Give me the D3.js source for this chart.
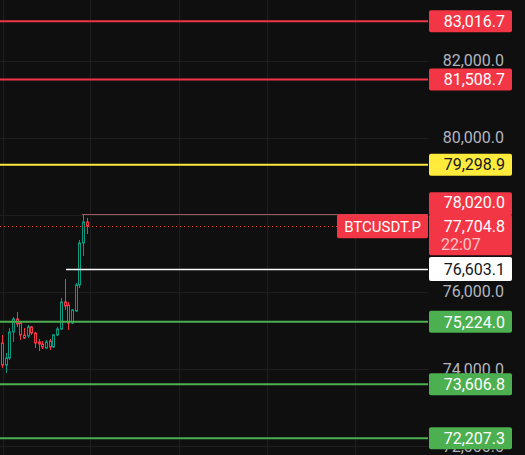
<!DOCTYPE html>
<html>
<head>
<meta charset="utf-8">
<script src="https://cdn.jsdelivr.net/npm/d3@7"></script>
<style>
  html, body { margin: 0; padding: 0; background: #0f0f0f; }
  svg { display: block; }
  text { font-family: Roboto, "Liberation Sans", sans-serif; }
</style>
</head>
<body>
<svg id="chart"></svg>
<script>
// 5-minute candles, oldest first (first one is cut off by the left edge)
const opens  = [73975, 74675, 74104, 74286, 74960, 75297, 75193, 74882, 74856, 75090, 74934, 74701, 74649, 74545, 74727, 74571, 74882, 75038, 75738, 75660, 75193, 75505, 76179, 77268, 77812];
const highs  = [74234, 74882, 74416, 75064, 75349, 75479, 75219, 75064, 75142, 75116, 74960, 74779, 74727, 74753, 74779, 74908, 75090, 75842, 76334, 75738, 75556, 76231, 77346, 78020, 77916];
const lows   = [73845, 74027, 73897, 74234, 74701, 75090, 74753, 74779, 74805, 74882, 74545, 74467, 74519, 74519, 74493, 74545, 74856, 75012, 75531, 75012, 75168, 75479, 76101, 76931, 77501];
const closes = [74130, 74104, 74286, 74960, 75297, 75168, 74882, 74805, 75090, 74934, 74675, 74649, 74571, 74701, 74571, 74882, 75038, 75738, 75634, 75193, 75531, 76179, 77268, 77812, 77704.8];
const firstIndex = -1;

const resistanceLevels = [83016.7, 81508.7];
const pivotLevel = 79298.9;
const supportLevels = [75224.0, 73606.8, 72207.3];
const sessionHigh = 78020.0;
const lastPrice = 77704.8;
const markerPrice = 76603.1;
const symbol = "BTCUSDT.P";
const countdown = "22:07";

const priceTicks = [72000, 74000, 76000, 78000, 80000, 82000];
const timeGrid = [0.3, 24, 48, 72, 96];

const W = 525, H = 455, plotRight = 428;
const up = "#089981", down = "#f23645";
const fmt = d3.format(",.1f");

const svg = d3.select("#chart").attr("width", W).attr("height", H);
svg.append("rect").attr("width", W).attr("height", H).attr("fill", "#0f0f0f");

const x = d3.scaleLinear().domain([0, 96]).range([2, 355]);
const y = d3.scaleLinear().domain([71770, 83569]).range([H, 0]);
const ly = y(lastPrice);

// grid
const grid = svg.append("g").attr("class", "grid");
grid.selectAll(".hg").data(priceTicks).join("line")
  .attr("x1", 0).attr("x2", plotRight)
  .attr("y1", d => Math.round(y(d)) + 0.5).attr("y2", d => Math.round(y(d)) + 0.5)
  .attr("stroke", "#1e1e1e");
grid.selectAll(".vg").data(timeGrid).join("line")
  .attr("x1", d => Math.round(x(d)) + 0.5).attr("x2", d => Math.round(x(d)) + 0.5)
  .attr("y1", 0).attr("y2", H)
  .attr("stroke", "#1e1e1e");

// price axis tick labels (the one fully covered by the last-price block is skipped)
const visibleTicks = priceTicks.filter(d => y(d) < ly - 36 || y(d) > ly + 30);
svg.append("g").selectAll("text").data(visibleTicks).join("text")
  .attr("x", 504).attr("y", d => y(d))
  .attr("dy", "0.35em").attr("text-anchor", "end")
  .attr("font-size", 16).attr("fill", "#b2b5be")
  .text(d => fmt(d));

// candles
const candles = opens.map((o, i) => ({ i: i + firstIndex, o, h: highs[i], l: lows[i], c: closes[i] }));
const cg = svg.append("g").attr("class", "candles");
cg.selectAll("line").data(candles).join("line")
  .attr("x1", d => Math.round(x(d.i)) + 0.5).attr("x2", d => Math.round(x(d.i)) + 0.5)
  .attr("y1", d => y(d.h)).attr("y2", d => y(d.l))
  .attr("stroke", d => d.c >= d.o ? up : down);
cg.selectAll("rect").data(candles).join("rect")
  .attr("x", d => Math.round(x(d.i)) - 0.5)
  .attr("width", 2)
  .attr("y", d => y(Math.max(d.o, d.c)))
  .attr("height", d => Math.max(1, y(Math.min(d.o, d.c)) - y(Math.max(d.o, d.c))))
  .attr("fill", "#0f0f0f")
  .attr("stroke", d => d.c >= d.o ? up : down);

// horizontal levels
const levels = [
  ...resistanceLevels.map(v => ({ v, color: "#f23645", text: "#ffffff" })),
  { v: pivotLevel, color: "#ffeb3b", text: "#131722" },
  ...supportLevels.map(v => ({ v, color: "#4caf50", text: "#ffffff" }))
];
svg.append("g").selectAll("line").data(levels).join("line")
  .attr("x1", 0).attr("x2", plotRight)
  .attr("y1", d => y(d.v)).attr("y2", d => y(d.v))
  .attr("stroke", d => d.color).attr("stroke-width", 2);

// session high line from the high candle
const hiIdx = highs.indexOf(d3.max(highs)) + firstIndex;
svg.append("line")
  .attr("x1", Math.round(x(hiIdx)) - 1).attr("x2", plotRight)
  .attr("y1", Math.round(y(sessionHigh)) + 0.5).attr("y2", Math.round(y(sessionHigh)) + 0.5)
  .attr("stroke", "#9a5a60");

// marker line
svg.append("line")
  .attr("x1", 66).attr("x2", plotRight)
  .attr("y1", Math.round(y(markerPrice)) + 0.5).attr("y2", Math.round(y(markerPrice)) + 0.5)
  .attr("stroke", "#ffffff").attr("stroke-width", 1.3);

// last price dotted line
svg.append("line")
  .attr("x1", 0).attr("x2", 337)
  .attr("y1", Math.round(ly) + 0.5).attr("y2", Math.round(ly) + 0.5)
  .attr("stroke", "#f23645").attr("stroke-dasharray", "1,3");

// level labels
const lx = 429, lw = 83;
const lab = svg.append("g").selectAll("g").data(levels).join("g")
  .attr("transform", d => `translate(${lx},${y(d.v)})`);
lab.append("rect").attr("y", -11).attr("width", lw).attr("height", 22).attr("rx", 2)
  .attr("fill", d => d.color);
lab.append("text").attr("x", 76).attr("dy", "0.36em").attr("text-anchor", "end")
  .attr("font-size", 16).attr("fill", d => d.text).text(d => fmt(d.v));

// marker label
const mg = svg.append("g").attr("transform", `translate(${lx},${y(markerPrice) + 0.5})`);
mg.append("rect").attr("y", -12).attr("width", lw).attr("height", 24).attr("rx", 2).attr("fill", "#ffffff");
mg.append("text").attr("x", 76).attr("dy", "0.36em").attr("text-anchor", "end")
  .attr("font-size", 16).attr("fill", "#131722").text(fmt(markerPrice));

// last price + high labels
const pg = svg.append("g");
pg.append("rect").attr("x", lx).attr("y", ly - 12).attr("width", lw).attr("height", 41).attr("rx", 2).attr("fill", "#f23645");
pg.append("rect").attr("x", lx).attr("y", ly - 34).attr("width", lw).attr("height", 23).attr("rx", 2).attr("fill", "#f23645");
pg.append("text").attr("x", lx + 76).attr("y", ly - 23.5).attr("dy", "0.36em").attr("text-anchor", "end")
  .attr("font-size", 16).attr("fill", "#ffffff").text(fmt(sessionHigh));
pg.append("text").attr("x", lx + 76).attr("y", ly).attr("dy", "0.36em").attr("text-anchor", "end")
  .attr("font-size", 16).attr("fill", "#ffffff").text(fmt(lastPrice));
pg.append("text").attr("x", lx + 12).attr("y", ly + 18).attr("dy", "0.36em")
  .attr("font-size", 16).attr("fill", "rgba(255,255,255,0.72)").text(countdown);

// symbol label
const sg = svg.append("g").attr("transform", `translate(337,${ly})`);
sg.append("rect").attr("y", -12).attr("width", 91).attr("height", 24).attr("rx", 2).attr("fill", "#f23645");
sg.append("text").attr("x", 45.5).attr("dy", "0.36em").attr("text-anchor", "middle")
  .attr("font-size", 15).attr("fill", "#ffffff").text(symbol);
</script>
</body>
</html>
